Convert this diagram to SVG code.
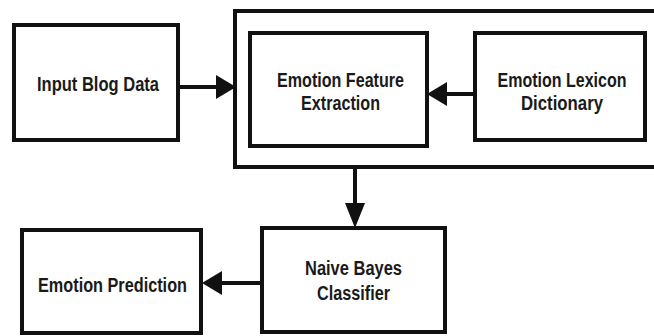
<svg xmlns="http://www.w3.org/2000/svg" width="654" height="336" viewBox="0 0 654 336">
  <style>
    .box { fill: #ffffff; stroke: #111111; stroke-width: 4; }
    .frame { fill: none; stroke: #111111; stroke-width: 4; }
    .link { fill: none; stroke: #111111; stroke-width: 4; }
    .label { font-family: "Liberation Sans", Arial, sans-serif; font-weight: bold; font-size: 19.5px; fill: #1a1a1a; text-anchor: middle; }
  </style>
  <defs>
    <marker id="head" markerUnits="userSpaceOnUse" markerWidth="20" markerHeight="24" refX="0" refY="12" orient="auto">
      <path d="M0,0 L20,12 L0,24 Z" fill="#111111"/>
    </marker>
    <marker id="head-v" markerUnits="userSpaceOnUse" markerWidth="25" markerHeight="20" refX="0" refY="10" orient="auto">
      <path d="M0,0 L25,10 L0,20 Z" fill="#111111"/>
    </marker>
  </defs>
  <rect width="654" height="336" fill="#ffffff"/>

  <!-- extraction stage frame, open where it runs past the right edge -->
  <path id="extraction-stage" class="frame" d="M654,11 H235 V167 H654"/>

  <g id="input-blog-data">
    <rect class="box" x="14" y="25" width="164" height="115"/>
    <text class="label" x="98" y="91" textLength="122" lengthAdjust="spacingAndGlyphs">Input Blog Data</text>
  </g>

  <g id="emotion-feature-extraction">
    <rect class="box" x="250" y="33" width="177" height="113"/>
    <text class="label" x="340.5" y="87" textLength="127" lengthAdjust="spacingAndGlyphs">Emotion Feature</text>
    <text class="label" x="340.5" y="110" textLength="79" lengthAdjust="spacingAndGlyphs">Extraction</text>
  </g>

  <g id="emotion-lexicon-dictionary">
    <rect class="box" x="475" y="33" width="170" height="107"/>
    <text class="label" x="562" y="87" textLength="129" lengthAdjust="spacingAndGlyphs">Emotion Lexicon</text>
    <text class="label" x="562" y="110" textLength="82" lengthAdjust="spacingAndGlyphs">Dictionary</text>
  </g>

  <g id="naive-bayes-classifier">
    <rect class="box" x="262" y="228" width="183" height="104"/>
    <text class="label" x="353.5" y="275" textLength="97" lengthAdjust="spacingAndGlyphs">Naive Bayes</text>
    <text class="label" x="353.5" y="300" textLength="73" lengthAdjust="spacingAndGlyphs">Classifier</text>
  </g>

  <g id="emotion-prediction">
    <rect class="box" x="22" y="230" width="179" height="103"/>
    <text class="label" x="112.5" y="292" textLength="149" lengthAdjust="spacingAndGlyphs">Emotion Prediction</text>
  </g>

  <g id="connectors">
    <line class="link" x1="178" y1="87" x2="216" y2="87" marker-end="url(#head)"/>
    <line class="link" x1="475" y1="94" x2="447" y2="94" marker-end="url(#head)"/>
    <line class="link" x1="355" y1="167" x2="355" y2="203" marker-end="url(#head-v)"/>
    <line class="link" x1="262" y1="283" x2="222" y2="283" marker-end="url(#head)"/>
  </g>
</svg>
